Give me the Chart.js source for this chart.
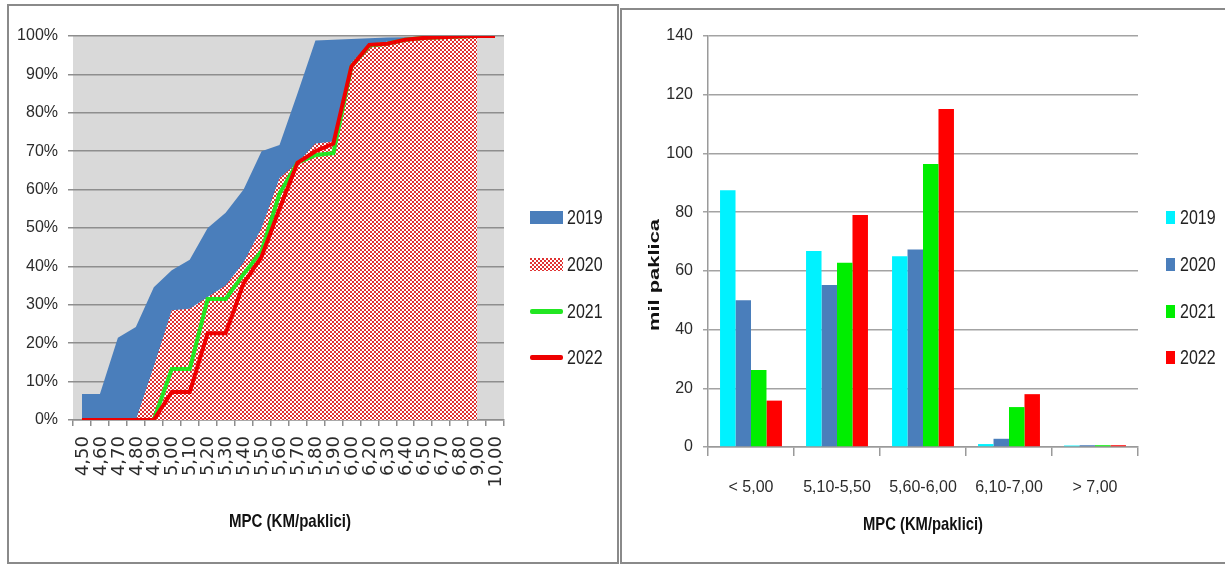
<!DOCTYPE html>
<html>
<head>
<meta charset="utf-8">
<script src="https://cdn.jsdelivr.net/npm/chart.js@4.4.1/dist/chart.umd.min.js"></script>
<style>
  html, body { margin: 0; padding: 0; background: #fff; width: 1225px; height: 566px; overflow: hidden;
    font-family: 'Liberation Sans', Arial, sans-serif; }
  .panel { position: absolute; box-sizing: border-box; border: 2px solid #8a8a8a; }
  #panel-left  { left: 7px;   top: 4px; width: 612px; height: 560px; }
  #panel-right { left: 620px; top: 8px; width: 612px; height: 556px; }
  canvas { position: absolute; }
  #chart-cdf  { left: 8px;   top: 5px; }
  #chart-bars { left: 621px; top: 5px; }
  .legend { position: absolute; list-style: none; margin: 0; padding: 0; }
  .legend li { position: absolute; left: 0; height: 24px; white-space: nowrap; }
  .legend i { position: absolute; display: block; }
  .legend span { position: absolute; top: 0; line-height: 24px; font-size: 20px; color: #222;
    transform: scaleX(0.8); transform-origin: left center; }
</style>
</head>
<body>
<div class="panel" id="panel-left"></div>
<div class="panel" id="panel-right"></div>
<canvas id="chart-cdf" width="610" height="558"></canvas>
<canvas id="chart-bars" width="604" height="558"></canvas>
<ul class="legend" id="legend-cdf" style="left:530px;top:0"></ul>
<ul class="legend" id="legend-bars" style="left:1166px;top:0"></ul>

<script>
/* ------------------------------
 * data
 * ------------------------------ */
const priceLabels = ['4,50', '4,60', '4,70', '4,80', '4,90', '5,00', '5,10', '5,20', '5,30', '5,40', '5,50', '5,60',
  '5,70', '5,80', '5,90', '6,00', '6,20', '6,30', '6,40', '6,50', '6,70', '6,80', '9,00', '10,00'];

// kumulativni udio (%)
const cum2019 = [6.8, 6.8, 21.4, 24.2, 34.6, 39, 41.7, 50, 54, 60, 70, 71.6, 85, 98.8, 99, 99.2, 99.4, 99.6, 99.7, 99.8, 99.9, 99.9, 100, null];
const cum2020 = [0, 0, 0, 0, 14, 28.6, 29, 32, 35, 41, 50, 63, 67, 72, 72.5, 93, 98, 98.5, 99, 99.5, 99.7, 99.9, 100, null];
const cum2021 = [0, 0, 0, 0, 0, 13.3, 13.3, 31.5, 31.5, 38, 44, 59, 67, 69, 69.5, 92, 97.5, 98, 99, 99.5, 99.7, 99.9, 100, 100];
const cum2022 = [0, 0, 0, 0, 0, 7.3, 7.3, 22.6, 22.6, 35.6, 42.5, 55, 67, 70, 72, 92, 97.7, 98, 99, 99.5, 99.7, 99.9, 100, 100];

const pctTicks = [0, 10, 20, 30, 40, 50, 60, 70, 80, 90, 100];

const rangeLabels = ['< 5,00', '5,10-5,50', '5,60-6,00', '6,10-7,00', '> 7,00'];
const packs2019 = [87.5, 66.8, 65, 1, 0.5];
const packs2020 = [50, 55.2, 67.3, 2.8, 0.6];
const packs2021 = [26.2, 62.8, 96.4, 13.6, 0.6];
const packs2022 = [15.8, 79, 115.1, 18, 0.6];

const years = ['2019', '2020', '2021', '2022'];

/* ------------------------------
 * colours
 * ------------------------------ */
const COLORS = {
  area2019: '#4a7ebb',
  dots2020: '#e03232',
  line2021: '#22e622',
  line2022: '#ee0000',
  bars: ['#00f2ff', '#4a7ebb', '#00ee00', '#ff0000'],
  plotBg: '#d9d9d9',
  grid: '#8e8e8e',
  text: '#2b2b2b'
};

const SANS = "'Liberation Sans', Arial, sans-serif";

// red dotted fill for 2020
function makeDotTile() {
  const c = document.createElement('canvas');
  c.width = 4; c.height = 4;
  const g = c.getContext('2d');
  g.fillStyle = '#fff';
  g.fillRect(0, 0, 4, 4);
  g.fillStyle = COLORS.dots2020;
  g.fillRect(0, 0, 2, 2);
  g.fillRect(2, 2, 2, 2);
  return c;
}
const dotTile = makeDotTile();
const dotPattern = document.getElementById('chart-cdf').getContext('2d').createPattern(dotTile, 'repeat');

/* ------------------------------
 * small plugins
 * ------------------------------ */
const plotBackground = {
  id: 'plotBackground',
  beforeDraw(chart, args, opts) {
    if (!opts.color) return;
    const { ctx, chartArea: a } = chart;
    ctx.save();
    ctx.fillStyle = opts.color;
    ctx.fillRect(a.left, a.top, a.right - a.left, a.bottom - a.top);
    ctx.restore();
  }
};

// x labels rotated to read bottom-to-top (Excel style)
const upLabels = {
  id: 'upLabels',
  afterDraw(chart, args, opts) {
    if (!opts.enabled) return;
    const { ctx, chartArea: a } = chart;
    const x = chart.scales.x;
    ctx.save();
    ctx.font = opts.font;
    ctx.fillStyle = COLORS.text;
    ctx.textAlign = 'right';
    ctx.textBaseline = 'middle';
    chart.data.labels.forEach((lab, i) => {
      ctx.save();
      ctx.translate(x.getPixelForTick(i) + 1, a.bottom + 16);
      ctx.rotate(-Math.PI / 2);
      ctx.fillText(lab, 0, 0);
      ctx.restore();
    });
    ctx.restore();
  }
};

const axisTitles = {
  id: 'axisTitles',
  afterDraw(chart, args, opts) {
    const { ctx } = chart;
    (opts.items || []).forEach(t => {
      ctx.save();
      ctx.font = t.font;
      ctx.fillStyle = '#111';
      ctx.textAlign = 'center';
      ctx.textBaseline = 'middle';
      ctx.translate(t.x, t.y);
      if (t.rotate) ctx.rotate(t.rotate);
      if (t.len) {
        const w = ctx.measureText(t.text).width;
        ctx.scale(t.len / w, 1);
      }
      ctx.fillText(t.text, 0, 0);
      ctx.restore();
    });
  }
};

/* ------------------------------
 * 1) kumulativna raspodjela (area + lines)
 * ------------------------------ */
const chartCdf = new Chart(document.getElementById('chart-cdf'), {
  type: 'line',
  plugins: [plotBackground, upLabels, axisTitles],
  data: {
    labels: priceLabels,
    datasets: [
      { label: years[0], data: cum2019, fill: 'origin', backgroundColor: COLORS.area2019,
        borderWidth: 0, pointRadius: 0, tension: 0, order: 4 },
      { label: years[1], data: cum2020, fill: 'origin', backgroundColor: dotPattern,
        borderWidth: 0, pointRadius: 0, tension: 0, order: 3 },
      { label: years[2], data: cum2021, fill: false, borderColor: COLORS.line2021,
        borderWidth: 4, pointRadius: 0, tension: 0, order: 2 },
      { label: years[3], data: cum2022, fill: false, borderColor: COLORS.line2022,
        borderWidth: 4, pointRadius: 0, tension: 0, order: 1 }
    ]
  },
  options: {
    responsive: false,
    animation: false,
    layout: { padding: { top: 31, right: 114, left: 0, bottom: 0 } },
    scales: {
      x: {
        type: 'category',
        offset: true,
        grid: { display: true, drawOnChartArea: false, offset: true, tickLength: 6, color: COLORS.grid, lineWidth: 1.5 },
        border: { display: true, color: COLORS.grid, width: 1.5 },
        ticks: { display: false },
        afterFit: s => { s.height = 143; }
      },
      y: {
        min: 0, max: 100,
        afterBuildTicks: s => { s.ticks = pctTicks.map(v => ({ value: v })); },
        grid: { color: COLORS.grid, lineWidth: 1.5, tickLength: 5 },
        border: { display: false },
        ticks: { padding: 10, color: COLORS.text, font: { family: SANS, size: 16 }, callback: v => v + '%' },
        afterFit: s => { s.width = 65; }
      }
    },
    plugins: {
      legend: { display: false },
      tooltip: { enabled: false },
      plotBackground: { color: COLORS.plotBg },
      upLabels: { enabled: true, font: "18px 'DejaVu Sans', sans-serif" },
      axisTitles: { items: [
        { text: 'MPC (KM/paklici)', x: 282, y: 517, font: 'bold 19px ' + SANS, len: 122 }
      ] }
    }
  }
});

/* ------------------------------
 * 2) mil paklica po rasponu MPC (bar)
 * ------------------------------ */
const packSeries = [packs2019, packs2020, packs2021, packs2022];

const chartBars = new Chart(document.getElementById('chart-bars'), {
  type: 'bar',
  plugins: [axisTitles],
  data: {
    labels: rangeLabels,
    datasets: packSeries.map((d, i) => ({
      label: years[i],
      data: d,
      backgroundColor: COLORS.bars[i],
      borderWidth: 0,
      categoryPercentage: 0.72,
      barPercentage: 1
    }))
  },
  options: {
    responsive: false,
    animation: false,
    layout: { padding: { top: 31, right: 87, left: 0, bottom: 0 } },
    scales: {
      x: {
        grid: { display: true, drawOnChartArea: false, offset: true, tickLength: 9, color: '#9a9a9a', lineWidth: 1.5 },
        border: { display: true, color: '#9a9a9a', width: 1.5 },
        ticks: { padding: 22, maxRotation: 0, minRotation: 0, autoSkip: false, color: COLORS.text, font: { family: SANS, size: 16 } },
        afterFit: s => { s.height = 116; }
      },
      y: {
        min: 0, max: 140,
        ticks: { stepSize: 20, padding: 10, color: COLORS.text, font: { family: SANS, size: 16 } },
        grid: { color: '#a3a3a3', lineWidth: 1.5, tickLength: 5 },
        border: { display: true, color: '#9a9a9a', width: 1.5 },
        afterFit: s => { s.width = 87; }
      }
    },
    plugins: {
      legend: { display: false },
      tooltip: { enabled: false },
      axisTitles: { items: [
        { text: 'MPC (KM/paklici)', x: 302, y: 520, font: 'bold 19px ' + SANS, len: 120 },
        { text: 'mil paklica', x: 34, y: 270, font: 'bold 15px ' + SANS, rotate: -Math.PI / 2, len: 112 }
      ] }
    }
  }
});

/* ------------------------------
 * HTML legends
 * ------------------------------ */
const legendRows = [217, 264, 311, 357];

function buildLegend(id, swatch, textLeft) {
  const box = document.getElementById(id);
  let html = '';
  years.forEach((y, i) => {
    html += `<li style="top:${legendRows[i] - 12}px">${swatch(i)}<span style="left:${textLeft}px">${y}</span></li>`;
  });
  box.innerHTML = html;
}

const tileUrl = dotTile.toDataURL();
buildLegend('legend-cdf', i => {
  if (i === 0) return `<i style="left:0;top:6px;width:33px;height:13px;background:${COLORS.area2019}"></i>`;
  if (i === 1) return `<i style="left:0;top:6px;width:33px;height:13px;background:url(${tileUrl})"></i>`;
  const c = i === 2 ? COLORS.line2021 : COLORS.line2022;
  return `<i style="left:0;top:10px;width:33px;height:5px;border-radius:2px;background:${c}"></i>`;
}, 37);

buildLegend('legend-bars', i =>
  `<i style="left:0;top:6px;width:9px;height:13px;background:${COLORS.bars[i]}"></i>`, 14);
</script>
</body>
</html>
